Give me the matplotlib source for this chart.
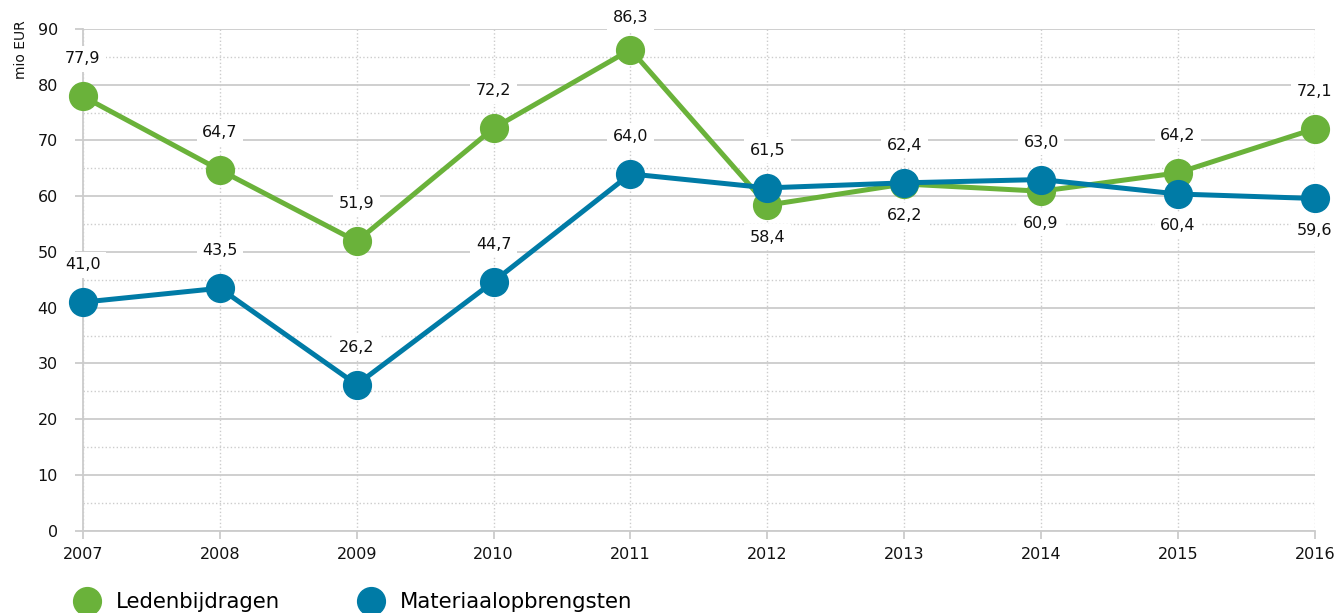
import numpy as np
import matplotlib.pyplot as plt
from matplotlib.ticker import MultipleLocator

# data
years = [2007, 2008, 2009, 2010, 2011, 2012, 2013, 2014, 2015, 2016]
leden = [77.9, 64.7, 51.9, 72.2, 86.3, 58.4, 62.2, 60.9, 64.2, 72.1]
materiaal = [41.0, 43.5, 26.2, 44.7, 64.0, 61.5, 62.4, 63.0, 60.4, 59.6]
leden_pos = ['a', 'a', 'a', 'a', 'a', 'b', 'b', 'b', 'a', 'a']
materiaal_pos = ['a', 'a', 'a', 'a', 'a', 'a', 'a', 'a', 'b', 'b']
series_names = ['Ledenbijdragen', 'Materiaalopbrengsten']

green = '#6ab23a'
blue = '#007ba6'
gridc = '#cccccc'

plt.rcParams['font.family'] = ['DejaVu Sans']

fig = plt.figure(figsize=(13.43, 6.13), dpi=100)
ax = fig.add_axes([0.0618, 0.1342, 0.979 - 0.0618, 0.9527 - 0.1342])

ax.set_xlim(2007, 2016)
ax.set_ylim(0, 90)
ax.yaxis.set_major_locator(MultipleLocator(10))
ax.yaxis.set_minor_locator(MultipleLocator(5))
ax.set_xticks(years)
ax.set_xticklabels([str(y) for y in years])

ax.grid(axis='y', which='major', color=gridc, lw=1.3, ls='-')
ax.grid(axis='y', which='minor', color=gridc, lw=1.0, ls=':')
ax.grid(axis='x', which='major', color=gridc, lw=1.0, ls=':')
ax.set_axisbelow(True)

for s in ['top', 'right']:
    ax.spines[s].set_visible(False)
for s in ['left', 'bottom']:
    ax.spines[s].set_color(gridc)
    ax.spines[s].set_linewidth(1.3)
ax.tick_params(axis='both', which='major', color=gridc, length=6, width=1.3,
               labelsize=11.5, labelcolor='#111111')
ax.tick_params(axis='y', which='minor', length=0)
ax.tick_params(axis='y', pad=12)
ax.tick_params(axis='x', pad=6)

for vals, col in [(leden, green), (materiaal, blue)]:
    ax.plot(years, vals, color=col, lw=3.6, marker='o', ms=20, clip_on=False, zorder=3)

# value labels (comma decimal)
for vals, pos in [(leden, leden_pos), (materiaal, materiaal_pos)]:
    for x, v, p in zip(years, vals, pos):
        off = 27 if p == 'a' else -23
        if v > 85:
            off = 23
        ax.annotate(f'{v:.1f}'.replace('.', ','), (x, v), xytext=(0, off),
                    textcoords='offset points', ha='center', va='center',
                    fontsize=11.5, color='#111111', zorder=4, annotation_clip=False,
                    bbox=dict(boxstyle='square,pad=0.35', fc='white', ec='none'))

fig.text(0.016, 0.967, 'mio EUR', rotation=90, ha='center', va='top', fontsize=10, color='#111111')

# legend
handles = [plt.Line2D([], [], color=c, marker='o', ls='none', ms=20) for c in [green, blue]]
fig.legend(handles, series_names, loc='lower left', bbox_to_anchor=(0.041, -0.03), ncol=2,
           frameon=False, fontsize=15.3, handletextpad=0.75, columnspacing=3.7, handlelength=1.2)

fig.savefig('out.png', dpi=100)
